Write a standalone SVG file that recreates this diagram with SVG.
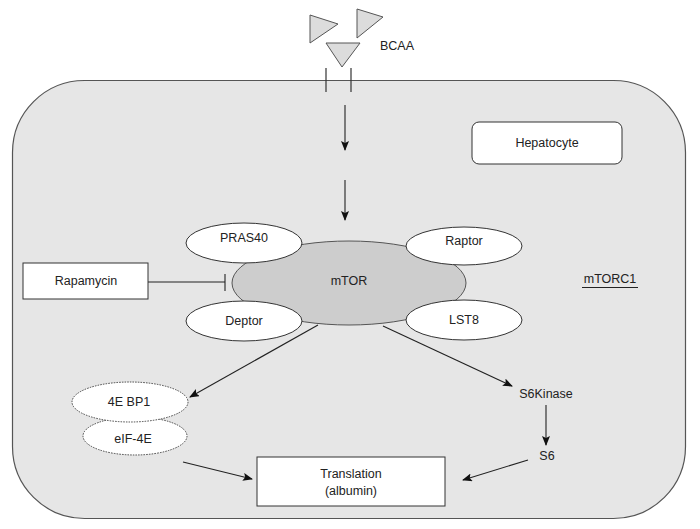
<svg xmlns="http://www.w3.org/2000/svg" width="700" height="529" viewBox="0 0 700 529">
<defs>
<marker id="ah" markerWidth="10" markerHeight="8" refX="9" refY="4" orient="auto" markerUnits="userSpaceOnUse">
<path d="M0,0 L10,4 L0,8 L2,4 Z" fill="#111"/>
</marker>
</defs>
<style>
text{font-family:"Liberation Sans",Arial,sans-serif;font-size:12.5px;fill:#222;text-anchor:middle;dominant-baseline:central}
.ln{stroke:#222;stroke-width:1.1;fill:none}
.el{fill:#fff;stroke:#333;stroke-width:1}
.dot{fill:#fff;stroke:#444;stroke-width:1;stroke-dasharray:1.5 1.2}
.tri{fill:#dcdcdc;stroke:#555;stroke-width:1}
</style>
<rect width="700" height="529" fill="#fff"/>
<g id="cell">
<rect x="12.5" y="80.5" width="673" height="438" rx="72" ry="72" fill="#e6e6e6" stroke="#555" stroke-width="1.2"/>
<line x1="326" y1="68" x2="326" y2="92" stroke="#333" stroke-width="1.2"/>
<line x1="351" y1="68" x2="351" y2="92" stroke="#333" stroke-width="1.2"/>
</g>
<g id="bcaa">
<polygon class="tri" points="310,15 310,43 338,24"/>
<polygon class="tri" points="357,9 357,38 383,17"/>
<polygon class="tri" points="326,43 360,43 342,67"/>
<text x="397" y="46">BCAA</text>
</g>
<g id="connectors">
<line class="ln" x1="345" y1="105" x2="345" y2="150" marker-end="url(#ah)"/>
<line class="ln" x1="345" y1="180" x2="345" y2="220" marker-end="url(#ah)"/>
<line class="ln" x1="148" y1="282" x2="225" y2="282"/>
<line class="ln" x1="225" y1="274" x2="225" y2="291"/>
<line class="ln" x1="318" y1="325" x2="190" y2="397" marker-end="url(#ah)"/>
<line class="ln" x1="383" y1="326" x2="512" y2="386" marker-end="url(#ah)"/>
<line class="ln" x1="546" y1="405" x2="546" y2="445" marker-end="url(#ah)"/>
<line class="ln" x1="183" y1="462" x2="252" y2="479" marker-end="url(#ah)"/>
<line class="ln" x1="528" y1="460" x2="463" y2="480" marker-end="url(#ah)"/>
</g>
<g id="hepatocyte">
<rect x="472" y="122" width="150" height="42" rx="7" fill="#fff" stroke="#333"/>
<text x="547" y="143">Hepatocyte</text>
</g>
<g id="mtorc1">
<text x="610" y="279">mTORC1</text>
<line x1="582" y1="287.5" x2="638" y2="287.5" stroke="#222"/>
</g>
<g id="rapamycin">
<rect x="23" y="263" width="125" height="36" fill="#fff" stroke="#333"/>
<text x="86" y="281">Rapamycin</text>
</g>
<g id="mtor">
<ellipse cx="349" cy="283" rx="117" ry="42" fill="#cdcdcd" stroke="#555"/>
<text x="349" y="281">mTOR</text>
</g>
<g id="pras40">
<ellipse class="el" cx="244" cy="243" rx="58" ry="20"/>
<text x="244" y="238">PRAS40</text>
</g>
<g id="raptor">
<ellipse class="el" cx="464" cy="246" rx="58" ry="19"/>
<text x="464" y="241">Raptor</text>
</g>
<g id="deptor">
<ellipse class="el" cx="244" cy="321" rx="58" ry="20"/>
<text x="244" y="321">Deptor</text>
</g>
<g id="lst8">
<ellipse class="el" cx="464" cy="320" rx="58" ry="20"/>
<text x="464" y="320">LST8</text>
</g>
<g id="eif4e">
<ellipse class="dot" cx="135" cy="436" rx="52" ry="19"/>
<text x="133" y="439">eIF-4E</text>
</g>
<g id="4ebp1">
<ellipse class="dot" cx="130" cy="402" rx="58" ry="20"/>
<text x="129" y="402">4E BP1</text>
</g>
<g id="s6kinase">
<text x="546" y="394">S6Kinase</text>
</g>
<g id="s6">
<text x="547" y="456">S6</text>
</g>
<g id="translation">
<rect x="257" y="457" width="188" height="49" fill="#fff" stroke="#333"/>
<text x="351" y="474">Translation</text>
<text x="351" y="491">(albumin)</text>
</g>
</svg>
